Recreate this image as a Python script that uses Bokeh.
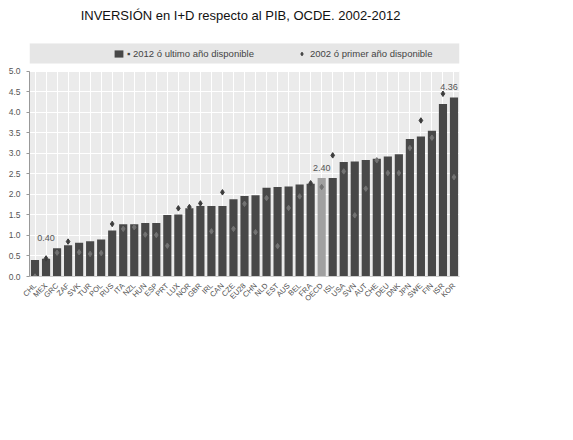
import math
from bokeh.plotting import figure
from bokeh.models import (FactorRange, Range1d, BoxAnnotation, Legend, LegendItem,
                          ColumnDataSource, FixedTicker, PrintfTickFormatter)
from bokeh.core.properties import value
from bokeh.embed import file_html
from bokeh.resources import INLINE

# R&D spending as % of GDP (OECD)
countries = ["CHL", "MEX", "GRC", "ZAF", "SVK", "TUR", "POL", "RUS", "ITA", "NZL",
             "HUN", "ESP", "PRT", "LUX", "NOR", "GBR", "IRL", "CAN", "CZE", "EU28",
             "CHN", "NLD", "EST", "AUS", "BEL", "FRA", "OECD", "ISL", "USA", "SVN",
             "AUT", "CHE", "DEU", "DNK", "JPN", "SWE", "FIN", "ISR", "KOR"]
v2012 = [0.40, 0.43, 0.69, 0.76, 0.82, 0.86, 0.90, 1.12, 1.27, 1.27,
         1.30, 1.30, 1.50, 1.51, 1.66, 1.72, 1.72, 1.72, 1.88, 1.96,
         1.98, 2.16, 2.18, 2.19, 2.24, 2.26, 2.40, 2.40, 2.79, 2.80,
         2.84, 2.87, 2.92, 2.98, 3.35, 3.41, 3.55, 4.20, 4.36]
v2002 = [0.00, 0.44, 0.58, 0.85, 0.59, 0.55, 0.57, 1.28, 1.16, 1.20,
         1.02, 1.01, 0.75, 1.66, 1.69, 1.78, 1.10, 2.05, 1.16, 1.77,
         1.08, 1.91, 0.74, 1.67, 1.95, 2.27, 2.18, 2.95, 2.56, 1.49,
         2.14, 2.83, 2.52, 2.52, 3.13, 3.80, 3.38, 4.45, 2.42]
y_ticks = [0.0, 0.5, 1.0, 1.5, 2.0, 2.5, 3.0, 3.5, 4.0, 4.5, 5.0]
label_countries = ["CHL", "OECD", "KOR"]
label_texts = ["0.40", "2.40", "4.36"]

title = "INVERSIÓN en I+D respecto al PIB, OCDE. 2002-2012"
legend_2012 = "▪ 2012 ó ultimo año disponible"
legend_2002 = "2002 ó primer año disponible"

FONT = "Liberation Sans"
Y_TOP = 6.60   # frame reaches up to the title; plot area itself ends at 5.0

bar_colors = ["#a0a0a0" if c == "OECD" else "#484848" for c in countries]
# 2002 markers read dark over the light background, light over the bars
mk_colors = ["#3c3c3c" if b >= a else "#737373" for a, b in zip(v2012, v2002)]

src = ColumnDataSource(data=dict(country=countries, v2012=v2012, v2002=v2002,
                                 bcolor=bar_colors, mcolor=mk_colors))

p = figure(x_range=FactorRange(*countries), y_range=Range1d(0, Y_TOP),
           frame_width=430, frame_height=271,
           min_border_left=29, min_border_right=10, min_border_top=5, min_border_bottom=40,
           output_backend="svg", toolbar_location=None)
p.outline_line_color = None
p.background_fill_color = "white"

# grey plot area and legend band
p.add_layout(BoxAnnotation(bottom=0, top=5.0, fill_color="#ebebeb", fill_alpha=1,
                           line_color=None, level="image"))
p.add_layout(BoxAnnotation(bottom=5.19, top=5.68, fill_color="#e6e6e6", fill_alpha=1,
                           line_color=None))
# cover the category grid lines above the legend band
p.add_layout(BoxAnnotation(bottom=5.68, top=Y_TOP, fill_color="white", fill_alpha=1,
                           line_color=None))

p.xgrid.grid_line_color = "white"
p.ygrid.grid_line_color = "white"
p.ygrid.ticker = FixedTicker(ticks=y_ticks)

p.yaxis.ticker = FixedTicker(ticks=y_ticks)
p.yaxis.formatter = PrintfTickFormatter(format="%.1f")
p.yaxis.bounds = (0, 5)
p.yaxis.axis_line_color = "#999999"
p.yaxis.major_tick_line_color = "#999999"
p.yaxis.major_tick_out = 3
p.yaxis.major_tick_in = 0
p.yaxis.minor_tick_line_color = None
p.yaxis.major_label_text_font = FONT
p.yaxis.major_label_text_font_size = "8.5px"
p.yaxis.major_label_text_color = "#555555"
p.yaxis.major_label_standoff = 6

p.xaxis.axis_line_color = "#cccccc"
p.xaxis.major_tick_line_color = None
p.xaxis.major_label_orientation = math.pi / 4
p.xaxis.major_label_text_font = FONT
p.xaxis.major_label_text_font_size = "7.5px"
p.xaxis.major_label_text_color = "#505050"
p.xaxis.major_label_standoff = 2

bars = p.vbar(x="country", top="v2012", width=0.74, source=src,
              fill_color="bcolor", line_color=None)
marks = p.scatter(x="country", y="v2002", source=src, marker="diamond", size=5.5,
                  fill_color="mcolor", line_color="mcolor")

# value labels; the last one nudged left so it stays inside the plot
lab_y = [v2012[countries.index(c)] for c in label_countries]
lab_dx = [11 if c == "CHL" else (-5 if c == "KOR" else 0) for c in label_countries]
lab_dy = [-22 if c == "CHL" else -10 for c in label_countries]
lab_src = ColumnDataSource(data=dict(x=label_countries, y=lab_y, t=label_texts,
                                     dx=lab_dx, dy=lab_dy))
p.text(x="x", y="y", text="t", x_offset="dx", y_offset="dy", source=lab_src,
       text_align="center", text_baseline="middle", text_font=value(FONT),
       text_font_size="9px", text_color="#555555")

# title, centred over the middle category
mid = countries[len(countries) // 2]
p.text(x=[mid], y=[6.36], text=[title], x_offset=-4, text_align="center",
       text_baseline="middle", text_font=value(FONT), text_font_size="13px",
       text_color="#111111", level="overlay")

legend = Legend(items=[LegendItem(label=legend_2012, renderers=[bars], index=0),
                       LegendItem(label=legend_2002, renderers=[marks], index=1)],
                location=(84, 217), orientation="horizontal",
                padding=0, margin=0, spacing=42, label_standoff=3,
                glyph_width=11, glyph_height=9, label_height=12,
                label_text_font=FONT, label_text_font_size="9.5px",
                label_text_color="#444444",
                background_fill_alpha=0, border_line_color=None)
p.add_layout(legend)

open("out.html", "w").write(file_html(p, INLINE))
